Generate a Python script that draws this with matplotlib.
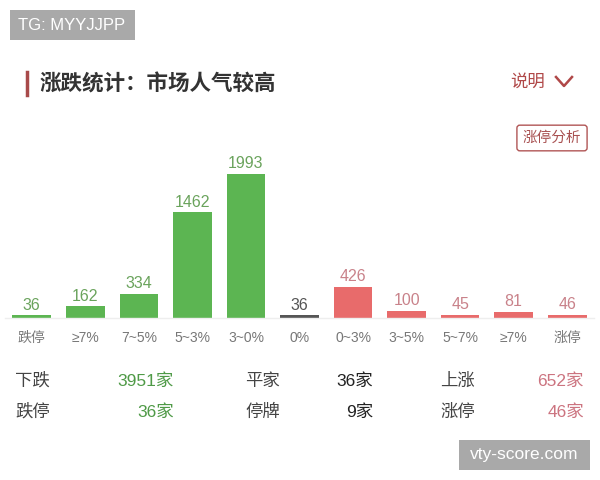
import matplotlib
matplotlib.use("Agg")
import matplotlib.pyplot as plt
from matplotlib.lines import Line2D
from matplotlib.patches import Rectangle

plt.rcParams['font.family'] = ['Noto Sans CJK SC', 'DejaVu Sans']
latin_first = ['Liberation Sans', 'Noto Sans CJK SC', 'DejaVu Sans']

# data
categories = ["跌停", "≥7%", "7~5%", "5~3%", "3~0%", "0%", "0~3%", "3~5%", "5~7%", "≥7%", "涨停"]
counts = [36, 162, 334, 1462, 1993, 36, 426, 100, 45, 81, 46]
groups = ["down"] * 5 + ["flat"] + ["up"] * 5

stat_rows = [
    [("下跌", "3951家", "down"), ("平家", "36家", "flat"), ("上涨", "652家", "up")],
    [("跌停", "36家", "down"), ("停牌", "9家", "flat"), ("涨停", "46家", "up")],
]

bar_colors = {"down": "#5cb552", "flat": "#555555", "up": "#e86b6b"}
label_colors = {"down": "#6aa35c", "flat": "#555555", "up": "#c9828a"}
stat_colors = {"down": "#4f9a47", "flat": "#222222", "up": "#cc7480"}

W, H = 600, 480
fig = plt.figure(figsize=(6, 4.8), dpi=100)
fig.patch.set_facecolor("white")


def px(x, y):
    return x / W, 1 - y / H


# bar axes: baseline at y=318 px, 1993 reaches y=174 px
ax_top, ax_bot = 158, 318
ax = fig.add_axes([5 / W, 1 - ax_bot / H, 589 / W, (ax_bot - ax_top) / H])
xs = list(range(len(categories)))
ax.bar(xs, counts, width=0.72, color=[bar_colors[g] for g in groups])
ax.set_xlim(-0.5, len(categories) - 0.5)
ax.set_ylim(0, 1993 * (ax_bot - ax_top) / 144)
for x, v, g in zip(xs, counts, groups):
    ax.annotate(str(v), (x, v), xytext=(0, 2), textcoords="offset points",
                ha="center", va="bottom", fontsize=11.5, color=label_colors[g],
                family=latin_first)
ax.set_xticks(xs)
ax.set_xticklabels(categories, fontsize=10, color="#777777", family=latin_first)
ax.tick_params(axis="x", length=0, pad=9)
ax.set_yticks([])
for s in ["top", "left", "right"]:
    ax.spines[s].set_visible(False)
ax.spines["bottom"].set_color("#eeeeee")
ax.spines["bottom"].set_linewidth(1)

# watermark top-left
fig.add_artist(Rectangle(px(10, 40), 125 / W, 30 / H, transform=fig.transFigure,
                         facecolor="#a9a9a9", edgecolor="none"))
fig.text(*px(72, 25), "TG: MYYJJPP", ha="center", va="center", fontsize=12,
         color="white", family="Liberation Sans")

# title
fig.add_artist(Line2D([27 / W, 27 / W], [1 - 72 / H, 1 - 95 / H], transform=fig.transFigure,
                      color="#a84a4a", linewidth=2.5))
fig.text(*px(40, 84), "涨跌统计：市场人气较高", ha="left", va="center", fontsize=15.5,
         color="#333333", fontweight="bold")

# "说明" and chevron
fig.text(*px(528, 82), "说明", ha="center", va="center", fontsize=12.5, color="#b04848")
fig.add_artist(Line2D([556 / W, 564 / W, 572 / W], [1 - 77 / H, 1 - 86 / H, 1 - 77 / H],
                      transform=fig.transFigure, color="#b04848", linewidth=1.8))

# 涨停分析 button
fig.text(*px(552, 138), "涨停分析", ha="center", va="center", fontsize=10.5, color="#a85050",
         bbox=dict(boxstyle="round,pad=0.4,rounding_size=0.2", facecolor="white",
                   edgecolor="#b05555", linewidth=1))

# bottom stats
col_label_x = [15, 245, 440]
col_value_x = [174, 373, 584]
row_y = [381, 412]
for r, row in enumerate(stat_rows):
    for c, (lab, val, g) in enumerate(row):
        fig.text(*px(col_label_x[c], row_y[r]), lab, ha="left", va="center",
                 fontsize=12.5, color="#444444")
        fig.text(*px(col_value_x[c], row_y[r]), val, ha="right", va="center",
                 fontsize=12.5, color=stat_colors[g], family=latin_first)

# watermark bottom-right
fig.add_artist(Rectangle(px(459, 470), 131 / W, 30 / H, transform=fig.transFigure,
                         facecolor="#a9a9a9", edgecolor="none"))
fig.text(*px(524, 455), "vty-score.com", ha="center", va="center", fontsize=12.5,
         color="white", family="Liberation Sans")

fig.savefig("out.png", dpi=100)
